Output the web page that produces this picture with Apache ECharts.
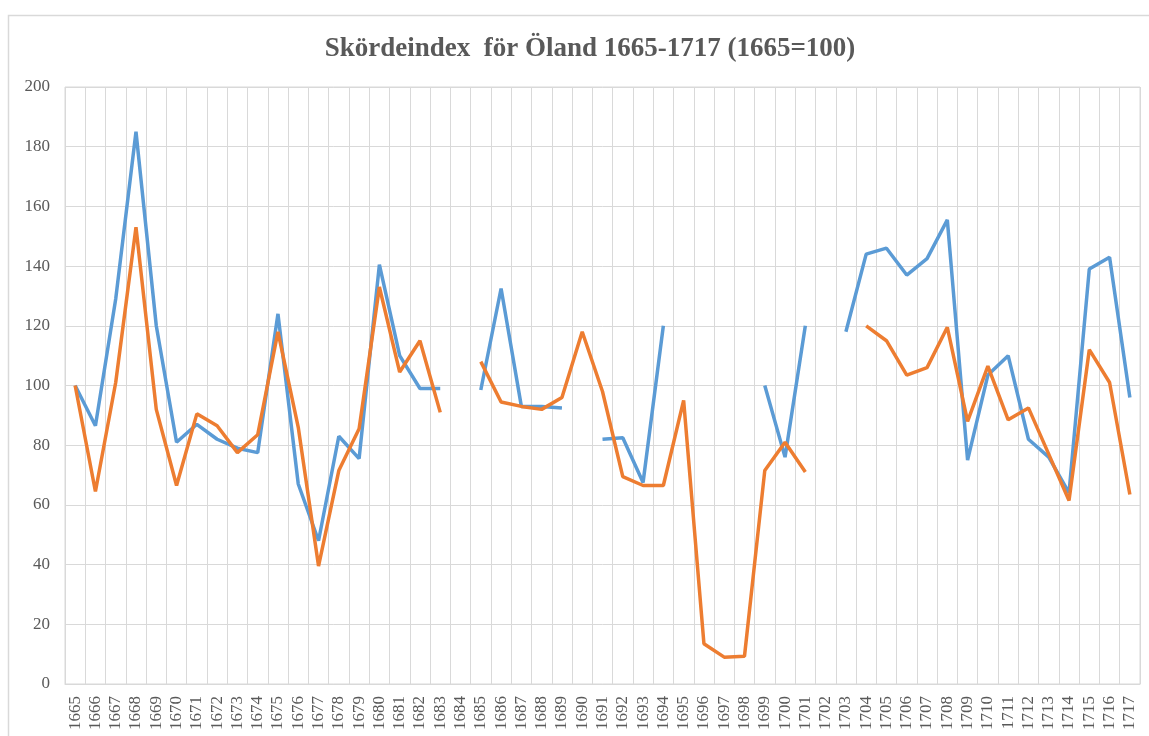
<!DOCTYPE html>
<html>
<head>
<meta charset="utf-8">
<script src="https://cdn.jsdelivr.net/npm/echarts@6/dist/echarts.min.js"></script>
<style>
  html, body { margin: 0; padding: 0; background: #fff; }
  #chart { width: 1149px; height: 736px; }
</style>
</head>
<body>
<div id="chart"></div>
<script>
// years 1665-1717
const years = []
for (let y = 1665; y <= 1717; y++) years.push(String(y))

// blue series
const blueValues = [
  100, 86.5, 129, 185, 120, 81, 87, 82, 79, 77.5,
  124, 67, 48, 83, 75.5, 140.5, 110, 99, 99, null,
  98.5, 132.5, 93, 93, 92.5, null, 82, 82.5, 67.5, 120,
  null, null, null, null, 100, 76, 120, null, 118, 144,
  146, 137, 142.5, 155.5, 75, 103.5, 110, 82, 76, 64,
  139, 143, 96
]

// orange series
const orangeValues = [
  100, 64.5, 101, 153, 92, 66.5, 90.5, 86.5, 77.5, 83.5,
  118, 86, 39.5, 71.5, 85.5, 133, 104.5, 115, 91, null,
  108, 94.5, 93, 92, 96, 118, 98, 69.5, 66.5, 66.5,
  95, 13.5, 9, 9.3, 71.5, 81, 71, null, null, 120,
  115, 103.5, 106, 119.5, 88, 106.5, 88.5, 92.5, 77, 61.5,
  112, 101, 63.5
]

const chart = echarts.init(document.getElementById('chart'))
const serif = '"Liberation Serif", "DejaVu Serif", serif'

chart.setOption({
  animation: false,
  backgroundColor: '#fff',
  title: {
    text: 'Skördeindex  för Öland 1665-1717 (1665=100)',
    left: 585,
    textAlign: 'center',
    top: 31,
    textStyle: {
      fontFamily: serif,
      fontSize: 27,
      fontWeight: 'bold',
      color: '#595959'
    }
  },
  graphic: [{
    type: 'rect',
    shape: { x: 8.5, y: 15.5, width: 1160, height: 740 },
    style: { fill: 'none', stroke: '#d9d9d9', lineWidth: 1.5 },
    silent: true
  }],
  grid: {
    left: 65,
    right: 9,
    top: 87,
    bottom: 52,
    show: true,
    borderColor: '#d9d9d9',
    borderWidth: 1
  },
  xAxis: {
    type: 'category',
    data: years,
    boundaryGap: true,
    axisLine: { lineStyle: { color: '#d9d9d9' } },
    axisTick: { show: false },
    splitLine: { show: true, interval: 0, lineStyle: { color: '#d9d9d9' } },
    axisLabel: {
      interval: 0,
      rotate: 90,
      margin: 12,
      fontFamily: serif,
      fontSize: 17,
      color: '#595959'
    }
  },
  yAxis: {
    type: 'value',
    min: 0,
    max: 200,
    interval: 20,
    axisLine: { show: false },
    axisTick: { show: false },
    splitLine: { lineStyle: { color: '#d9d9d9' } },
    axisLabel: {
      margin: 15,
      fontFamily: serif,
      fontSize: 17,
      color: '#595959'
    }
  },
  series: [
    {
      type: 'line',
      data: blueValues,
      showSymbol: false,
      connectNulls: false,
      lineStyle: { color: '#5b9bd5', width: 3.5 },
      itemStyle: { color: '#5b9bd5' }
    },
    {
      type: 'line',
      data: orangeValues,
      showSymbol: false,
      connectNulls: false,
      lineStyle: { color: '#ed7d31', width: 3.5 },
      itemStyle: { color: '#ed7d31' }
    }
  ]
})
</script>
</body>
</html>
